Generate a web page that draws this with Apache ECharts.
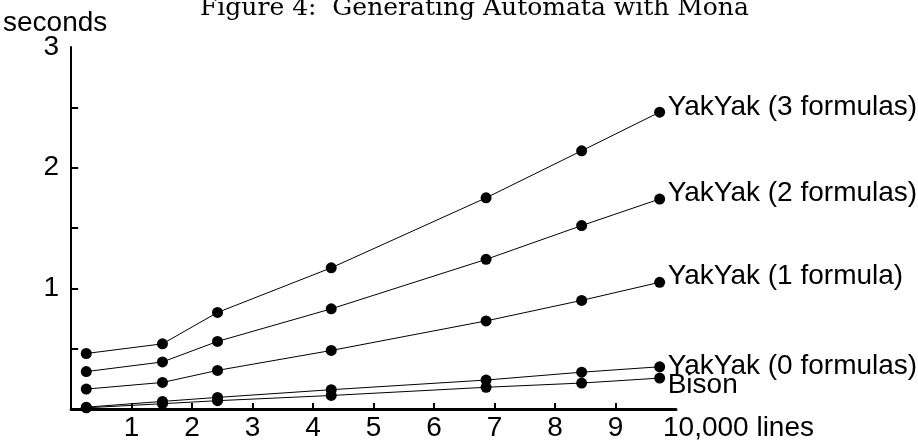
<!DOCTYPE html>
<html>
<head>
<meta charset="utf-8">
<script src="https://cdn.jsdelivr.net/npm/echarts/dist/echarts.min.js"></script>
<style>
    html, body {margin: 0; padding: 0; background: #fff;}
    #chart {width: 918px; height: 443px;}
</style>
</head>
<body>
<div id="chart"></div>
<script>
    // x in 10,000 lines, y in seconds
    var lines = [0.25, 1.51, 2.42, 4.3, 6.86, 8.44, 9.73];
    var yak3 = [0.46, 0.54, 0.8, 1.17, 1.75, 2.14, 2.46];
    var yak2 = [0.31, 0.39, 0.56, 0.83, 1.24, 1.52, 1.74];
    var yak1 = [0.165, 0.22, 0.32, 0.485, 0.73, 0.9, 1.05];
    var yak0 = [0.015, 0.063, 0.096, 0.16, 0.24, 0.305, 0.35];
    var bison = [0.01, 0.044, 0.069, 0.112, 0.18, 0.215, 0.256];

    var xTicks = [1, 2, 3, 4, 5, 6, 7, 8, 9];
    var yTicks = [0.5, 1, 1.5, 2, 2.5];
    var yLabels = [1, 2, 3];

    var names = ['YakYak (3 formulas)', 'YakYak (2 formulas)', 'YakYak (1 formula)', 'YakYak (0 formulas)', 'Bison'];
    var values = [yak3, yak2, yak1, yak0, bison];
    var labelShift = [-5, -6, -6, 0, 7];

    var sans = 'Liberation Sans';

    function pairs(ys) {
        return lines.map(function (x, i) {
            return [x, ys[i]];
        });
    }

    var series = [];
    for (var i = 0; i < names.length; i++) {
        series.push({
            name: names[i],
            type: 'line',
            data: pairs(values[i]),
            symbol: 'circle',
            symbolSize: 11,
            showSymbol: true,
            itemStyle: {color: '#000'},
            lineStyle: {color: '#000', width: 1},
            endLabel: {
                show: true,
                formatter: '{a}',
                distance: 8,
                offset: [0, labelShift[i]],
                color: '#000',
                fontFamily: sans,
                fontSize: 28
            }
        });
    }

    var chart = echarts.init(document.getElementById('chart'));
    var option = {
        animation: false,
        title: {
            text: 'Figure 4:  Generating Automata with Mona',
            left: 200,
            top: -4,
            padding: 0,
            textStyle: {fontFamily: 'DejaVu Serif', fontWeight: 'normal', fontSize: 25, color: '#000'}
        },
        grid: {left: 70, top: 47, width: 606, height: 362},
        xAxis: {
            type: 'value',
            min: 0,
            max: 10,
            interval: 1,
            name: '10,000 lines',
            nameLocation: 'end',
            nameGap: -13,
            nameMoveOverlap: false,
            nameTextStyle: {
                fontFamily: sans, fontSize: 28, color: '#000',
                align: 'left', verticalAlign: 'top', padding: [5, 0, 0, 0]
            },
            axisLine: {lineStyle: {color: '#000', width: 3}},
            axisTick: {inside: true, length: 6, customValues: xTicks, lineStyle: {color: '#000', width: 2}},
            axisLabel: {customValues: xTicks, margin: 5, color: '#000', fontFamily: sans, fontSize: 28},
            splitLine: {show: false}
        },
        yAxis: {
            type: 'value',
            min: 0,
            max: 3,
            interval: 0.5,
            name: 'seconds',
            nameLocation: 'end',
            nameGap: 24,
            nameMoveOverlap: false,
            nameTextStyle: {
                fontFamily: sans, fontSize: 28, color: '#000',
                align: 'center', verticalAlign: 'middle', padding: [0, 32, 0, 0]
            },
            axisLine: {show: true, lineStyle: {color: '#000', width: 2}},
            axisTick: {show: true, inside: true, length: 7, customValues: yTicks, lineStyle: {color: '#000', width: 2}},
            axisLabel: {customValues: yLabels, margin: 12, color: '#000', fontFamily: sans, fontSize: 28},
            splitLine: {show: false}
        },
        series: series
    };
    chart.setOption(option);
</script>
</body>
</html>
